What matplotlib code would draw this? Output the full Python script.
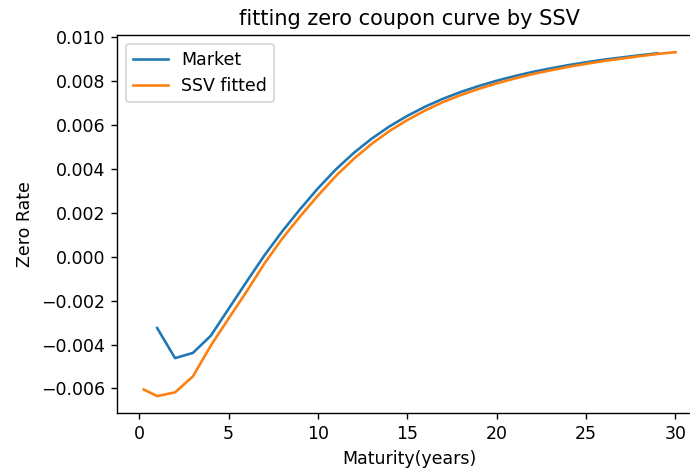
import matplotlib
matplotlib.use("Agg")
import matplotlib.pyplot as plt

market_maturity = list(range(1, 30))
market_rate = [-0.00325, -0.00462, -0.00438, -0.00360, -0.00237, -0.00114, 0.00006,
               0.00116, 0.00217, 0.00312, 0.00398, 0.00473, 0.00538, 0.00594,
               0.00642, 0.00684, 0.00720, 0.00751, 0.00778, 0.00802, 0.00823,
               0.00842, 0.00858, 0.00873, 0.00886, 0.00898, 0.00908, 0.00918, 0.00927]

fitted_maturity = [0.25] + list(range(1, 31))
fitted_rate = [-0.00605, -0.00635, -0.00618, -0.00545, -0.00405, -0.00281, -0.00159,
               -0.00031, 0.00083, 0.00184, 0.00279, 0.00368, 0.00446, 0.00514,
               0.00573, 0.00623, 0.00667, 0.00705, 0.00737, 0.00765, 0.00790,
               0.00812, 0.00832, 0.00849, 0.00865, 0.00879, 0.00892, 0.00903,
               0.00914, 0.00924, 0.00932]

dpi = 125
fig = plt.figure(figsize=(690 / dpi, 472 / dpi), dpi=dpi)
# axes right edge extends past the figure (reference is cropped on the right)
left, right, bottom, top = 117.2, 702.0, 472 - 413.3, 472 - 35.0
ax = fig.add_axes([left / 690, bottom / 472, (right - left) / 690, (top - bottom) / 472])

ax.plot(market_maturity, market_rate, label="Market")
ax.plot(fitted_maturity, fitted_rate, label="SSV fitted")
ax.set_title("fitting zero coupon curve by SSV")
ax.set_xlabel("Maturity(years)")
ax.set_ylabel("Zero Rate")
ax.legend(loc="upper left")

fig.savefig("out.png", dpi=dpi)
